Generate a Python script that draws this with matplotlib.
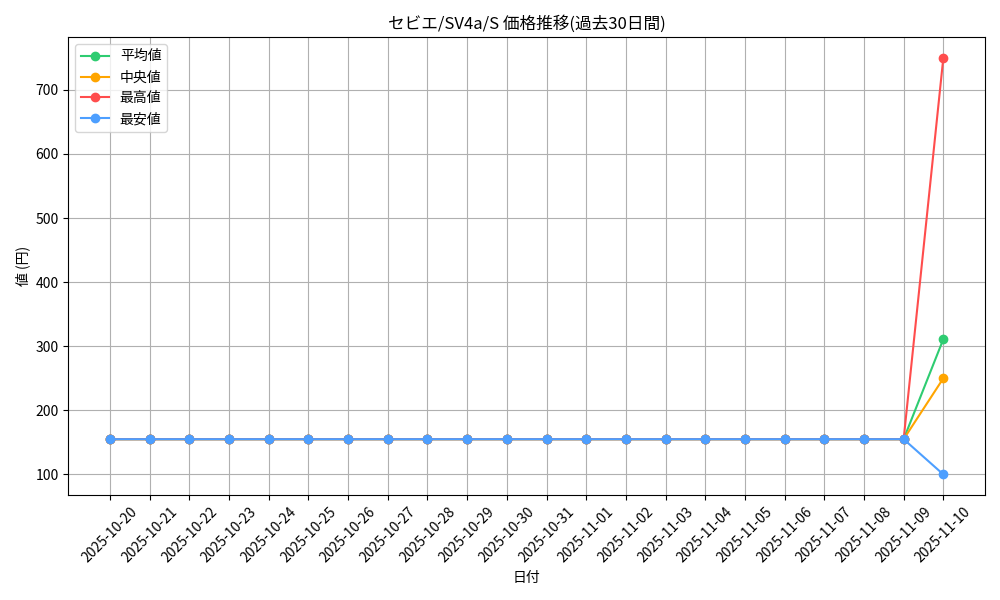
import matplotlib
matplotlib.use("Agg")
import matplotlib.pyplot as plt

plt.rcParams['font.family'] = ['Noto Sans CJK JP', 'DejaVu Sans']

dates = ["2025-10-20", "2025-10-21", "2025-10-22", "2025-10-23", "2025-10-24",
         "2025-10-25", "2025-10-26", "2025-10-27", "2025-10-28", "2025-10-29",
         "2025-10-30", "2025-10-31", "2025-11-01", "2025-11-02", "2025-11-03",
         "2025-11-04", "2025-11-05", "2025-11-06", "2025-11-07", "2025-11-08",
         "2025-11-09", "2025-11-10"]
mean_vals = [155] * 21 + [311]
median_vals = [155] * 21 + [250]
max_vals = [155] * 21 + [750]
min_vals = [155] * 21 + [100]

fig, ax = plt.subplots(figsize=(10, 6), dpi=100)
ax.plot(dates, mean_vals, marker="o", color="#2ecc71", label="平均値")
ax.plot(dates, median_vals, marker="o", color="#ffa500", label="中央値")
ax.plot(dates, max_vals, marker="o", color="#ff4d4d", label="最高値")
ax.plot(dates, min_vals, marker="o", color="#4d9fff", label="最安値")

ax.set_title("セビエ/SV4a/S 価格推移(過去30日間)")
ax.set_xlabel("日付")
ax.set_ylabel("値 (円)")
ax.grid(True)
ax.legend(loc="upper left")
plt.xticks(rotation=45)
plt.tight_layout()
plt.savefig("out.png")
